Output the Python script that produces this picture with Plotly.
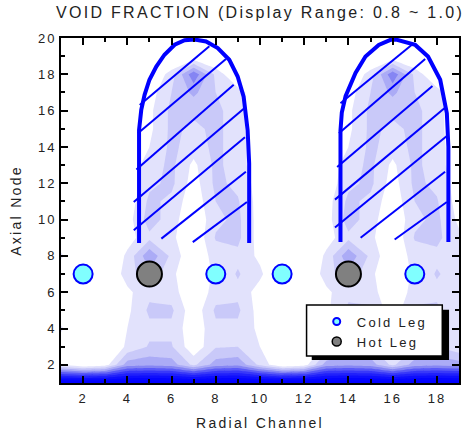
import plotly.graph_objects as go

# ---------------- data ----------------
channels = list(range(1, 20))          # radial channel 1..19
nodes = list(range(1, 21))             # axial node 1..20

# void fraction, one row per axial node (node 1 first), 19 radial channels each
void_fraction = [
    [1.0, 1.0, 1.0, 1.0, 1.0, 1.0, 1.0, 1.0, 1.0, 1.0, 1.0, 1.0, 1.0, 1.0, 1.0, 1.0, 1.0, 1.0, 1.0],
    [0.80, 0.78, 0.79, 0.85, 0.855, 0.85, 0.815, 0.85, 0.855, 0.815, 0.78, 0.79, 0.85, 0.855, 0.85, 0.815, 0.85, 0.855, 0.85],
    [0.78, 0.74, 0.77, 0.805, 0.822, 0.822, 0.785, 0.818, 0.82, 0.80, 0.74, 0.77, 0.805, 0.822, 0.822, 0.785, 0.818, 0.82, 0.805],
    [0.805, 0.76, 0.775, 0.80, 0.815, 0.815, 0.785, 0.815, 0.815, 0.795, 0.76, 0.775, 0.80, 0.815, 0.815, 0.785, 0.815, 0.815, 0.805],
    [0.775, 0.75, 0.77, 0.795, 0.824, 0.824, 0.785, 0.824, 0.824, 0.79, 0.75, 0.77, 0.795, 0.824, 0.824, 0.785, 0.824, 0.824, 0.805],
    [0.77, 0.75, 0.77, 0.795, 0.815, 0.81, 0.78, 0.81, 0.815, 0.79, 0.75, 0.77, 0.795, 0.815, 0.81, 0.78, 0.81, 0.815, 0.805],
    [0.78, 0.76, 0.775, 0.81, 0.835, 0.805, 0.78, 0.805, 0.822, 0.805, 0.77, 0.775, 0.81, 0.835, 0.805, 0.78, 0.805, 0.822, 0.81],
    [0.805, 0.76, 0.77, 0.805, 0.855, 0.815, 0.78, 0.81, 0.815, 0.795, 0.76, 0.77, 0.805, 0.855, 0.815, 0.78, 0.81, 0.815, 0.805],
    [0.78, 0.75, 0.765, 0.79, 0.815, 0.805, 0.78, 0.822, 0.825, 0.79, 0.75, 0.765, 0.79, 0.815, 0.805, 0.78, 0.822, 0.825, 0.805],
    [0.77, 0.75, 0.765, 0.79, 0.83, 0.81, 0.78, 0.815, 0.825, 0.79, 0.75, 0.765, 0.79, 0.83, 0.81, 0.78, 0.815, 0.825, 0.795],
    [0.76, 0.75, 0.765, 0.785, 0.825, 0.815, 0.785, 0.82, 0.822, 0.79, 0.75, 0.765, 0.79, 0.825, 0.815, 0.785, 0.82, 0.822, 0.79],
    [0.75, 0.75, 0.76, 0.78, 0.815, 0.825, 0.79, 0.825, 0.815, 0.79, 0.75, 0.76, 0.785, 0.815, 0.825, 0.79, 0.825, 0.815, 0.79],
    [0.74, 0.75, 0.76, 0.785, 0.81, 0.825, 0.795, 0.825, 0.81, 0.785, 0.75, 0.76, 0.785, 0.81, 0.825, 0.795, 0.825, 0.81, 0.785],
    [0.74, 0.74, 0.76, 0.775, 0.80, 0.825, 0.81, 0.825, 0.81, 0.785, 0.74, 0.76, 0.775, 0.80, 0.825, 0.81, 0.825, 0.81, 0.785],
    [0.74, 0.74, 0.75, 0.77, 0.795, 0.825, 0.815, 0.825, 0.81, 0.78, 0.74, 0.75, 0.77, 0.795, 0.825, 0.815, 0.825, 0.81, 0.78],
    [0.74, 0.74, 0.75, 0.77, 0.795, 0.825, 0.825, 0.825, 0.81, 0.78, 0.74, 0.75, 0.77, 0.795, 0.825, 0.825, 0.825, 0.81, 0.78],
    [0.74, 0.74, 0.74, 0.76, 0.79, 0.82, 0.845, 0.82, 0.81, 0.78, 0.74, 0.74, 0.76, 0.79, 0.82, 0.845, 0.82, 0.81, 0.78],
    [0.74, 0.74, 0.74, 0.75, 0.775, 0.81, 0.875, 0.815, 0.775, 0.75, 0.74, 0.74, 0.75, 0.775, 0.81, 0.875, 0.815, 0.775, 0.75],
    [0.74, 0.74, 0.74, 0.74, 0.75, 0.77, 0.78, 0.77, 0.75, 0.74, 0.74, 0.74, 0.74, 0.75, 0.77, 0.78, 0.77, 0.75, 0.74],
    [0.74, 0.74, 0.74, 0.74, 0.74, 0.75, 0.77, 0.75, 0.74, 0.74, 0.74, 0.74, 0.74, 0.74, 0.75, 0.77, 0.75, 0.74, 0.74],
]

cold_leg_x = [2, 8, 11, 17]
cold_leg_y = [7, 7, 7, 7]
hot_leg_x = [5, 14]
hot_leg_y = [7, 7]

# arch-shaped outlined regions
arch_left_x = [4.53, 4.53, 4.63, 4.78, 5.0, 5.31, 5.68, 6.14, 6.59, 7.04, 7.56, 8.09, 8.61, 8.99, 9.26, 9.44, 9.51, 9.51]
arch_left_y = [8.71, 14.93, 16.04, 16.87, 17.7, 18.43, 19.08, 19.63, 19.88, 19.92, 19.81, 19.45, 18.8, 17.88, 16.77, 14.93, 13.1, 8.71]
arch_right_x = [13.64, 13.64, 13.7, 13.87, 14.32, 14.77, 15.37, 15.9, 16.2, 17.02, 17.6, 18.15, 18.45, 18.52, 18.52]
arch_right_y = [8.76, 14.9, 15.9, 16.8, 18.07, 18.98, 19.62, 19.9, 19.9, 19.62, 18.98, 17.7, 15.86, 14.0, 8.76]

# hatch segments inside the arches
hatch_left_x0 = [4.56, 4.48, 4.41, 4.29, 4.29, 5.54, 6.96]
hatch_left_y0 = [16.31, 14.75, 12.76, 10.97, 9.41, 8.95, 8.76]
hatch_left_x1 = [7.71, 8.46, 8.81, 9.29, 9.32, 9.36, 9.41]
hatch_left_y1 = [19.54, 18.84, 17.42, 16.13, 14.53, 12.63, 10.97]
hatch_right_x0 = [13.64, 13.57, 13.49, 13.39, 13.39, 14.55, 16.09]
hatch_right_y0 = [16.41, 14.75, 12.9, 11.1, 9.56, 9.0, 8.9]
hatch_right_x1 = [16.87, 17.47, 17.8, 18.34, 18.45, 18.37, 18.45]
hatch_right_y1 = [19.63, 18.84, 17.36, 16.13, 14.6, 12.63, 10.97]

x_tick_vals = [2, 4, 6, 8, 10, 12, 14, 16, 18]
y_tick_vals = [2, 4, 6, 8, 10, 12, 14, 16, 18, 20]

# ---------------- styling ----------------
SP = 'letter-spacing:2.3px'
def spaced(t, sp=SP):
    return '<span style="%s">%s</span>' % (sp, t)

band_colors = ['#ffffff', '#e2e2fc', '#c9c9f9', '#ababf6', '#8585f3',
               '#5a5af7', '#3838f9', '#2020fb', '#0e0efd', '#0404fe', '#0000ff', '#0000ff']
colorscale = [[i / (len(band_colors) - 1), c] for i, c in enumerate(band_colors)]

TXT = '#222222'
FONT = 'Liberation Sans, Arial, sans-serif'

fig = go.Figure()
fig.add_trace(go.Contour(
    x=channels, y=nodes, z=void_fraction,
    contours=dict(start=0.8, end=1.0001, size=0.02, coloring='fill', showlines=False),
    colorscale=colorscale, showscale=False, line=dict(width=0, smoothing=0), hoverinfo='skip'))

def segs(x0, y0, x1, y1):
    xs, ys = [], []
    for a, b, c, d in zip(x0, y0, x1, y1):
        xs += [a, c, None]
        ys += [b, d, None]
    return xs, ys

for x0, y0, x1, y1 in [(hatch_left_x0, hatch_left_y0, hatch_left_x1, hatch_left_y1),
                       (hatch_right_x0, hatch_right_y0, hatch_right_x1, hatch_right_y1)]:
    hx, hy = segs(x0, y0, x1, y1)
    fig.add_trace(go.Scatter(x=hx, y=hy, mode='lines', line=dict(color='#0000ff', width=2),
                             showlegend=False, hoverinfo='skip'))

for ax_, ay_ in [(arch_left_x, arch_left_y), (arch_right_x, arch_right_y)]:
    fig.add_trace(go.Scatter(x=ax_, y=ay_, mode='lines', line=dict(color='#0000ff', width=4),
                             showlegend=False, hoverinfo='skip'))

fig.add_trace(go.Scatter(x=cold_leg_x, y=cold_leg_y, mode='markers', showlegend=False,
                         marker=dict(size=19, color='#80ffff', line=dict(color='#0000ff', width=2))))
fig.add_trace(go.Scatter(x=hot_leg_x, y=hot_leg_y, mode='markers', showlegend=False,
                         marker=dict(size=25, color='#808080', line=dict(color='#000000', width=2))))

# legend entries
fig.add_trace(go.Scatter(x=[None], y=[None], mode='markers', name=spaced('Cold Leg'),
                         marker=dict(size=7, color='#80ffff', line=dict(color='#0000ff', width=2))))
fig.add_trace(go.Scatter(x=[None], y=[None], mode='markers', name=spaced('Hot Leg'),
                         marker=dict(size=9, color='#808080', line=dict(color='#000000', width=1.5))))

axis_common = dict(showline=True, linewidth=2, linecolor='black', mirror='allticks',
                   ticks='inside', ticklen=7, tickwidth=1.5, tickcolor='black',
                   showgrid=False, zeroline=False,
                   tickfont=dict(size=13, color=TXT, family=FONT))

fig.update_layout(
    width=468, height=437,
    margin=dict(l=61, r=7, t=38, b=54),
    paper_bgcolor='white', plot_bgcolor='white',
    font=dict(family=FONT, color=TXT),
    title=dict(text=spaced('VOID FRACTION (Display Range: 0.8 ~ 1.0)'),
               font=dict(size=16, color=TXT, family=FONT),
               x=0.5, xref='paper', xanchor='center', y=1 - 12 / 437, yref='container', yanchor='middle'),
    xaxis=dict(range=[1, 19], tickvals=x_tick_vals, ticktext=[spaced(str(v), 'letter-spacing:2px') for v in x_tick_vals],
               minor=dict(ticks='inside', ticklen=4, tickwidth=1.5, tickcolor='black', dtick=1, tick0=1),
               title=dict(text=spaced('Radial Channel'), font=dict(size=14, color=TXT, family=FONT), standoff=14),
               ticklabelstandoff=2,
               **axis_common),
    yaxis=dict(range=[1, 20], tickvals=y_tick_vals, ticktext=[spaced(str(v), 'letter-spacing:2px') for v in y_tick_vals],
               minor=dict(ticks='inside', ticklen=4, tickwidth=1.5, tickcolor='black', dtick=1, tick0=1),
               title=dict(text=spaced('Axial Node'), font=dict(size=14, color=TXT, family=FONT), standoff=13),
               **axis_common),
    legend=dict(x=0.6425, y=0.2215, xanchor='left', yanchor='top', bgcolor='rgba(0,0,0,0)',
                borderwidth=0, font=dict(size=13, color=TXT, family=FONT)),
    shapes=[
        dict(type='rect', xref='paper', yref='paper', x0=0.63, x1=0.975, y0=0.0667, y1=0.212,
             fillcolor='black', line=dict(width=0), layer='above'),
        dict(type='rect', xref='paper', yref='paper', x0=0.617, x1=0.958, y0=0.078, y1=0.226,
             fillcolor='white', line=dict(color='black', width=1.5), layer='above'),
    ],
)

fig.write_html('out.html')
